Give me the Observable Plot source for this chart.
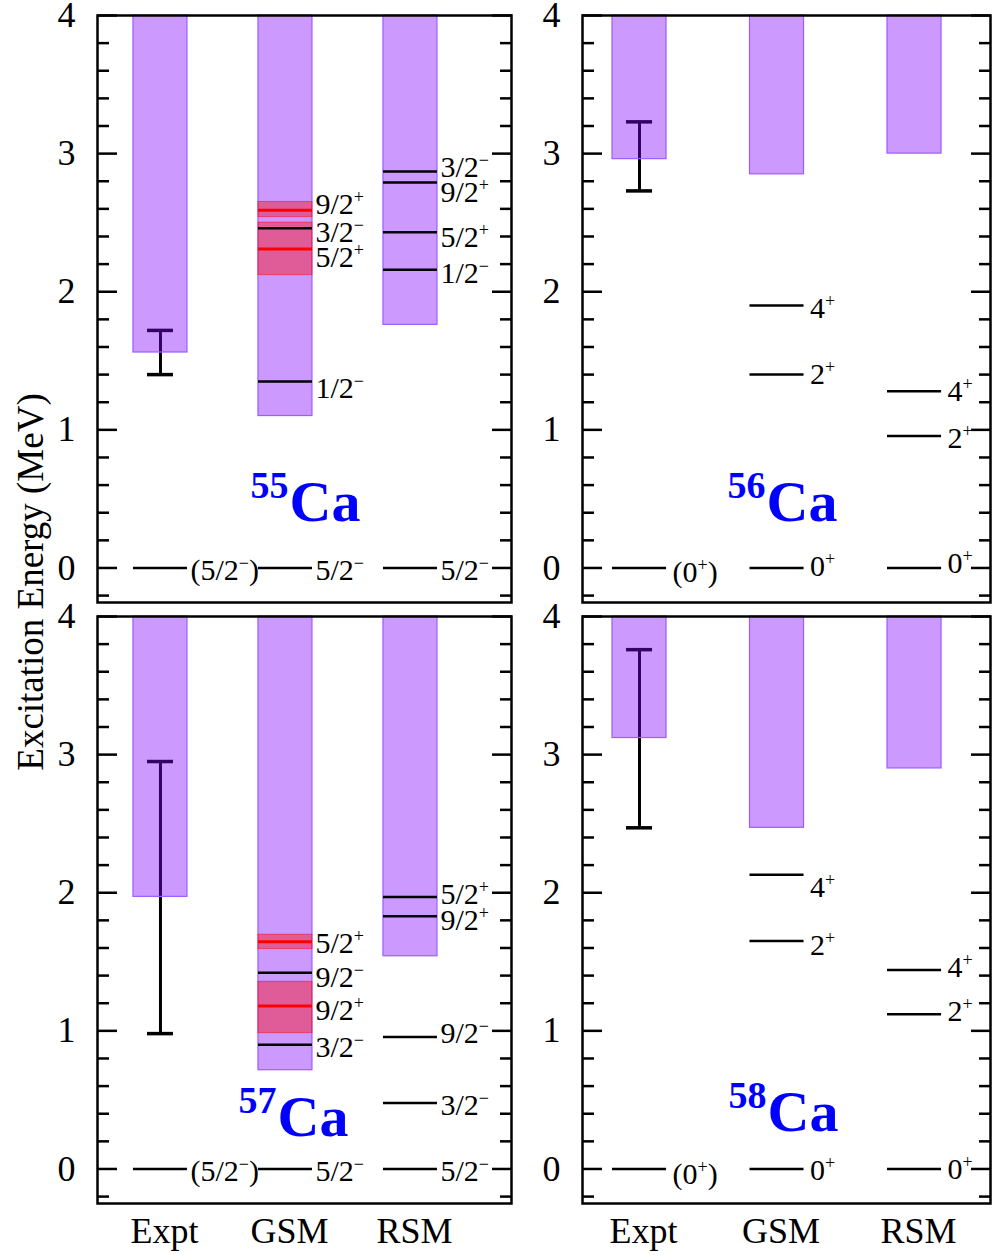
<!DOCTYPE html>
<html><head><meta charset="utf-8">
<script src="https://cdn.jsdelivr.net/npm/d3@7"></script>
<script src="https://cdn.jsdelivr.net/npm/@observablehq/plot@0.6"></script>
<style>
html,body{margin:0;padding:0;background:#fff;}
#chart{position:relative;width:992px;height:1255px;font-family:"Liberation Serif","Times New Roman",serif;}
#chart svg{position:absolute;}
#ylabel{position:absolute;left:30px;top:582px;transform:translate(-50%,-50%) rotate(-90deg);font-size:37px;white-space:nowrap;}
</style></head><body>
<div id="chart"><div id="ylabel">Excitation Energy (MeV)</div></div>
<script>
// ---------- data ----------
const models = ["Expt", "GSM", "RSM"];
const eMax = 4;
const majorTicks = [0, 1, 2, 3, 4];
const minorTicks = [-0.2, 0.2, 0.4, 0.6, 0.8, 1.2, 1.4, 1.6, 1.8, 2.2, 2.4, 2.6, 2.8, 3.2, 3.4, 3.6, 3.8];

// 55Ca
const ca55Levels = [
  {model: "Expt", E: 0, labelE: -0.02, jpi: "(5/2^−)"},
  {model: "GSM", E: 0, labelE: -0.02, jpi: "5/2^−"},
  {model: "GSM", E: 1.35, labelE: 1.30, jpi: "1/2^−"},
  {model: "GSM", E: 2.31, labelE: 2.25, jpi: "5/2^+", res: true},
  {model: "GSM", E: 2.46, labelE: 2.43, jpi: "3/2^−"},
  {model: "GSM", E: 2.59, labelE: 2.63, jpi: "9/2^+", res: true},
  {model: "RSM", E: 0, labelE: -0.02, jpi: "5/2^−"},
  {model: "RSM", E: 2.16, labelE: 2.13, jpi: "1/2^−"},
  {model: "RSM", E: 2.43, labelE: 2.39, jpi: "5/2^+"},
  {model: "RSM", E: 2.79, labelE: 2.72, jpi: "9/2^+"},
  {model: "RSM", E: 2.87, labelE: 2.90, jpi: "3/2^−"}
];
const ca55Thresholds = [{model: "Expt", E: 1.56}, {model: "GSM", E: 1.10}, {model: "RSM", E: 1.76}];
const ca55ExptError = [{model: "Expt", lo: 1.40, hi: 1.72}];
const ca55Widths = [{model: "GSM", lo: 2.12, hi: 2.50}, {model: "GSM", lo: 2.54, hi: 2.65}];

// 56Ca
const ca56Levels = [
  {model: "Expt", E: 0, labelE: -0.03, jpi: "(0^+)"},
  {model: "GSM", E: 0, labelE: 0.01, jpi: "0^+"},
  {model: "GSM", E: 1.40, labelE: 1.40, jpi: "2^+"},
  {model: "GSM", E: 1.90, labelE: 1.88, jpi: "4^+"},
  {model: "RSM", E: 0, labelE: 0.03, jpi: "0^+"},
  {model: "RSM", E: 0.955, labelE: 0.94, jpi: "2^+"},
  {model: "RSM", E: 1.28, labelE: 1.28, jpi: "4^+"}
];
const ca56Thresholds = [{model: "Expt", E: 2.96}, {model: "GSM", E: 2.85}, {model: "RSM", E: 3.00}];
const ca56ExptError = [{model: "Expt", lo: 2.73, hi: 3.23}];
const ca56Widths = [];

// 57Ca
const ca57Levels = [
  {model: "Expt", E: 0, labelE: -0.02, jpi: "(5/2^−)"},
  {model: "GSM", E: 0, labelE: -0.02, jpi: "5/2^−"},
  {model: "GSM", E: 0.90, labelE: 0.88, jpi: "3/2^−"},
  {model: "GSM", E: 1.18, labelE: 1.145, jpi: "9/2^+", res: true},
  {model: "GSM", E: 1.42, labelE: 1.385, jpi: "9/2^−"},
  {model: "GSM", E: 1.645, labelE: 1.63, jpi: "5/2^+", res: true},
  {model: "RSM", E: 0, labelE: -0.02, jpi: "5/2^−"},
  {model: "RSM", E: 0.478, labelE: 0.46, jpi: "3/2^−"},
  {model: "RSM", E: 0.956, labelE: 0.98, jpi: "9/2^−"},
  {model: "RSM", E: 1.83, labelE: 1.80, jpi: "9/2^+"},
  {model: "RSM", E: 1.97, labelE: 1.99, jpi: "5/2^+"}
];
const ca57Thresholds = [{model: "Expt", E: 1.97}, {model: "GSM", E: 0.715}, {model: "RSM", E: 1.54}];
const ca57ExptError = [{model: "Expt", lo: 0.98, hi: 2.95}];
const ca57Widths = [{model: "GSM", lo: 0.983, hi: 1.355}, {model: "GSM", lo: 1.592, hi: 1.696}];

// 58Ca
const ca58Levels = [
  {model: "Expt", E: 0, labelE: -0.04, jpi: "(0^+)"},
  {model: "GSM", E: 0, labelE: -0.01, jpi: "0^+"},
  {model: "GSM", E: 1.65, labelE: 1.62, jpi: "2^+"},
  {model: "GSM", E: 2.13, labelE: 2.04, jpi: "4^+"},
  {model: "RSM", E: 0, labelE: 0.0, jpi: "0^+"},
  {model: "RSM", E: 1.12, labelE: 1.14, jpi: "2^+"},
  {model: "RSM", E: 1.44, labelE: 1.46, jpi: "4^+"}
];
const ca58Thresholds = [{model: "Expt", E: 3.12}, {model: "GSM", E: 2.47}, {model: "RSM", E: 2.90}];
const ca58ExptError = [{model: "Expt", lo: 2.47, hi: 3.76}];
const ca58Widths = [];

// ---------- drawing ----------
const FONT = "'Liberation Serif','Times New Roman',serif";

function supify(svg, supSize, raise) {
  svg.querySelectorAll("text").forEach(t => {
    const s = t.textContent;
    if (!s.includes("^")) return;
    const parts = s.split(/\^(.)/);
    t.textContent = "";
    let shifted = false;
    parts.forEach((p, i) => {
      if (!p) return;
      const ts = document.createElementNS("http://www.w3.org/2000/svg", "tspan");
      if (i % 2 === 1) {
        ts.setAttribute("font-size", supSize);
        ts.setAttribute("dy", -raise);
        shifted = true;
      } else if (shifted) {
        ts.setAttribute("dy", raise);
        shifted = false;
      }
      ts.textContent = p;
      t.appendChild(ts);
    });
  });
}

function panel(cfg) {
  const left = cfg.side === "left";
  const xOpts = left
    ? {paddingInner: 0.568, paddingOuter: 0.44, align: 0.327}
    : {paddingInner: 0.607, paddingOuter: 0.287, align: 0.38};
  const width = left ? 515 : 472;
  const height = cfg.bottom ? 655 : 610;
  const labelDx = left ? 30 : 33;
  const bars = cfg.thresholds.map(d => ({model: d.model, E: d.E, top: eMax}));
  const marks = [
    Plot.ruleX(cfg.errors, {x: "model", y1: "lo", y2: "hi", stroke: "black", strokeWidth: 3}),
    Plot.tickY(cfg.errors, {x: "model", y: "lo", stroke: "black", strokeWidth: 3.5, insetLeft: 14, insetRight: 14}),
    Plot.tickY(cfg.errors, {x: "model", y: "hi", stroke: "black", strokeWidth: 3.5, insetLeft: 14, insetRight: 14}),
    Plot.barY(bars, {x: "model", y1: "E", y2: "top", fill: "rgb(128,0,255)", fillOpacity: 0.4, stroke: "#9d5cff", strokeWidth: 1.2}),
    Plot.barY(cfg.widths, {x: "model", y1: "lo", y2: "hi", fill: "red", fillOpacity: 0.4, stroke: "red", strokeOpacity: 0.5, strokeWidth: 1}),
    Plot.tickY(cfg.levels.filter(d => !d.res), {x: "model", y: "E", stroke: "black", strokeWidth: 2.5}),
    Plot.tickY(cfg.levels.filter(d => d.res), {x: "model", y: "E", stroke: "red", strokeWidth: 3}),
    Plot.text(cfg.levels, {x: "model", y: "labelE", text: "jpi", textAnchor: "start", dx: labelDx, fontSize: 30, lineAnchor: "middle", fill: "black"}),
    Plot.text([cfg.nucleus], {frameAnchor: "bottom", text: d => d.mass, textAnchor: "end", lineAnchor: "bottom", dx: cfg.caDx, dy: cfg.caDy - 23, fontSize: 38, fontWeight: "bold", fill: "#0000ff"}),
    Plot.text([cfg.nucleus], {frameAnchor: "bottom", text: d => d.el, textAnchor: "start", lineAnchor: "bottom", dx: cfg.caDx + 1, dy: cfg.caDy, fontSize: 58, fontWeight: "bold", fill: "#0000ff"}),
    Plot.axisY(majorTicks, {anchor: "left", tickSize: 20, dx: 20, fill: "none", label: null, strokeWidth: 2.5}),
    Plot.axisY(minorTicks, {anchor: "left", tickSize: 12, dx: 12, fill: "none", label: null, strokeWidth: 2.5}),
    Plot.axisY(majorTicks, {anchor: "right", tickSize: 20, dx: -20, fill: "none", label: null, strokeWidth: 2.5}),
    Plot.axisY(minorTicks, {anchor: "right", tickSize: 12, dx: -12, fill: "none", label: null, strokeWidth: 2.5}),
    Plot.axisY(majorTicks, {anchor: "left", tickSize: 0, tickPadding: 22, fontSize: 36, label: null, tickFormat: d => String(d)}),
    Plot.frame({stroke: "black", strokeWidth: 2.5})
  ];
  if (cfg.bottom) {
    marks.push(Plot.axisX({anchor: "bottom", tickSize: 0, tickPadding: 14, fontSize: 36, label: null, dx: 4}));
  }
  const xScale = {type: "band", domain: models, round: false, ...xOpts};
  if (!cfg.bottom) xScale.axis = null;
  const svg = Plot.plot({
    width, height,
    marginLeft: left ? 97 : 62,
    marginRight: left ? 4 : 2,
    marginTop: cfg.bottom ? 16 : 15,
    marginBottom: cfg.bottom ? 52 : 8,
    x: xScale,
    y: {domain: [-0.25, eMax]},
    style: `background:transparent;overflow:visible;font-family:${FONT};color:black;`,
    marks
  });
  supify(svg, 18, 11);
  svg.style.left = cfg.left + "px";
  svg.style.top = cfg.top + "px";
  document.getElementById("chart").appendChild(svg);
}

panel({side: "left", bottom: false, left: 0, top: 0, levels: ca55Levels, thresholds: ca55Thresholds, errors: ca55ExptError, widths: ca55Widths, nucleus: {mass: "55", el: "Ca"}, caDx: -16, caDy: -82});
panel({side: "right", bottom: false, left: 520, top: 0, levels: ca56Levels, thresholds: ca56Thresholds, errors: ca56ExptError, widths: ca56Widths, nucleus: {mass: "56", el: "Ca"}, caDx: -21, caDy: -82});
panel({side: "left", bottom: true, left: 0, top: 600, levels: ca57Levels, thresholds: ca57Thresholds, errors: ca57ExptError, widths: ca57Widths, nucleus: {mass: "57", el: "Ca"}, caDx: -28, caDy: -68});
panel({side: "right", bottom: true, left: 520, top: 600, levels: ca58Levels, thresholds: ca58Thresholds, errors: ca58ExptError, widths: ca58Widths, nucleus: {mass: "58", el: "Ca"}, caDx: -20, caDy: -73});
</script></body></html>
